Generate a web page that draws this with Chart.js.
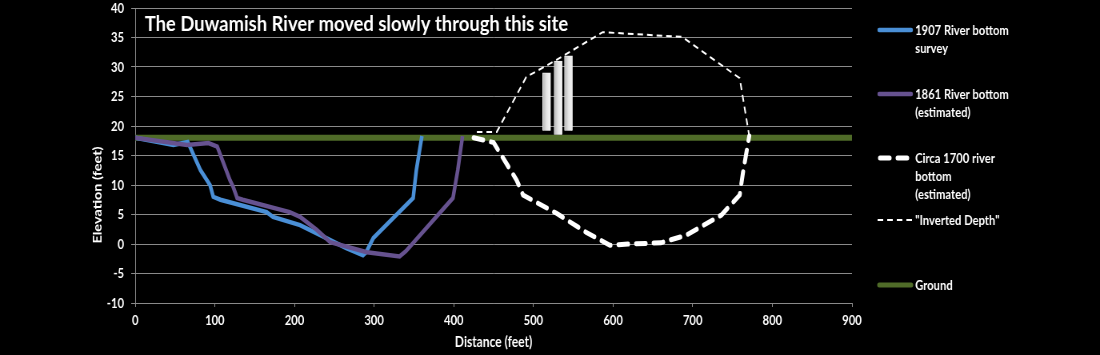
<!DOCTYPE html>
<html>
<head>
<meta charset="utf-8">
<script src="https://cdn.jsdelivr.net/npm/chart.js@4"></script>
<style>
  html, body { margin: 0; padding: 0; background: #000; overflow: hidden; }
  /* the source picture is squeezed horizontally, so draw wide and squeeze */
  #wrap { width: 1375px; height: 355px; transform: scaleX(0.8); transform-origin: 0 0; }
</style>
</head>
<body>
<div id="wrap"><canvas id="riverChart" width="1375" height="355"></canvas></div>
<script>
// Duwamish River cross sections (distance in feet, elevation in feet)
const chartTitle = 'The Duwamish River moved slowly through this site';

const dist1907 = [0, 48, 66, 82, 94, 98, 107, 165, 173, 207, 240, 265, 286, 290, 299, 349, 353, 360];
const elev1907 = [18, 16.8, 17.3, 12.5, 10, 8, 7.5, 5.4, 4.6, 3.2, 1, -0.7, -1.9, -1.4, 1, 7.8, 12.5, 18.3];

const dist1861 = [0, 65, 92, 103, 119, 123, 128, 135, 194, 207, 228, 245, 291, 332, 340, 399, 405, 411];
const elev1861 = [18, 16.8, 17.1, 16.5, 10.8, 9.7, 7.8, 7.5, 5.4, 4.6, 2.4, 0.3, -1.4, -2.1, -1.2, 7.8, 12.5, 18.3];

const dist1700 = [425, 450, 479, 487, 529, 566, 596, 620, 660, 692, 736, 759, 763, 771];
const elev1700 = [18, 17.2, 10.8, 8.3, 5.2, 2, -0.2, 0, 0.2, 1.5, 4.9, 8.3, 12, 18.3];

const distInverted = [429, 454, 491, 529, 587, 687, 759, 771];
const elevInverted = [19, 19, 28.3, 31.2, 35.9, 35.1, 28.1, 18.3];

const distGround = [0, 900];
const elevGround = [18, 18];

// the three light bars drawn above the old channel
const barDist = [516.6, 531, 544];
const barLow = [19.2, 18.5, 19.2];
const barHigh = [29, 31, 31.9];

const yTicksMin = -10, yTicksMax = 40, yStep = 5;
const xTicksMin = 0, xTicksMax = 900, xStep = 100;

const legendLabels = [
    ['1907 River bottom', 'survey'],
    ['1861 River bottom', '(estimated)'],
    ['Circa 1700 river', 'bottom', '(estimated)'],
    ['"Inverted Depth"'],
    ['Ground']
];

function toPoints(xs, ys) {
    return xs.map((x, i) => ({ x: x, y: ys[i] }));
}

const FONT = 'Lato, "Open Sans", sans-serif';

// legend and chart title drawn by hand to follow the original layout
const overlayPlugin = {
    id: 'overlay',
    afterDraw(chart) {
        const ctx = chart.ctx;
        ctx.save();
        ctx.fillStyle = '#ffffff';

        // title inside the plot (a bit wider than the rest of the text)
        ctx.save();
        ctx.translate(181, 31);
        ctx.scale(1.15, 1);
        ctx.font = 'bold 20px ' + FONT;
        ctx.textAlign = 'left';
        ctx.textBaseline = 'alphabetic';
        ctx.fillText(chartTitle, 0, 0);
        ctx.restore();

        // y axis title, sits lower than centre in the original
        ctx.save();
        ctx.translate(122, 195);
        ctx.rotate(-Math.PI / 2);
        ctx.font = 'bold 14.5px ' + FONT;
        ctx.textAlign = 'center';
        ctx.textBaseline = 'middle';
        ctx.fillText('Elevation (feet)', 0, 0);
        ctx.restore();

        // legend
        const legendY = [30, 94, 158, 220, 285];
        const sampleDs = [1, 2, 3, 4, 5];
        ctx.font = 'bold 14px ' + FONT;
        ctx.textBaseline = 'middle';
        legendLabels.forEach((lines, i) => {
            const ds = chart.data.datasets[sampleDs[i]];
            const y = legendY[i];
            ctx.save();
            ctx.strokeStyle = ds.borderColor;
            ctx.lineWidth = Math.min(ds.borderWidth, 5);
            ctx.setLineDash(ds.borderDash || []);
            ctx.lineCap = ds.borderCapStyle || 'round';
            ctx.beginPath();
            if (ds.borderDash && ds.borderCapStyle === 'round') {
                ctx.moveTo(1100, y); ctx.lineTo(1138, y);
            } else if (ds.borderDash) {
                ctx.moveTo(1097, y); ctx.lineTo(1141, y);
            } else {
                ctx.moveTo(1099, y); ctx.lineTo(1139, y);
            }
            ctx.stroke();
            ctx.restore();
            lines.forEach((t, k) => ctx.fillText(t, 1144, y + k * 18));
        });
        ctx.restore();
    }
};

function barFill(c) {
    const chart = c.chart;
    if (!chart.chartArea || !c.raw) return '#dddddd';
    const px = chart.scales.x.getPixelForValue(c.raw.x);
    const g = chart.ctx.createLinearGradient(px - 5, 0, px + 5, 0);
    g.addColorStop(0, '#b4b4b4');
    g.addColorStop(0.5, '#e4e4e4');
    g.addColorStop(1, '#f7f7f7');
    return g;
}

new Chart(document.getElementById('riverChart'), {
    type: 'scatter',
    data: {
        datasets: [
            {
                type: 'bar',
                label: 'bars',
                data: barDist.map((x, i) => ({ x: x, y: [barLow[i], barHigh[i]] })),
                backgroundColor: barFill,
                borderColor: '#efefef',
                borderWidth: 1,
                barThickness: 10,
                order: 3
            },
            {
                label: '1907 River bottom survey',
                data: toPoints(dist1907, elev1907),
                showLine: true,
                borderColor: '#4a8fd6',
                borderWidth: 4.5,
                pointRadius: 0,
                order: 5
            },
            {
                label: '1861 River bottom (estimated)',
                data: toPoints(dist1861, elev1861),
                showLine: true,
                borderColor: '#66528f',
                borderWidth: 4.5,
                pointRadius: 0,
                order: 4
            },
            {
                label: 'Circa 1700 river bottom (estimated)',
                data: toPoints(dist1700, elev1700),
                showLine: true,
                borderColor: '#ffffff',
                borderWidth: 5,
                borderDash: [12, 10],
                borderCapStyle: 'round',
                pointRadius: 0,
                order: 1
            },
            {
                label: '"Inverted Depth"',
                data: toPoints(distInverted, elevInverted),
                showLine: true,
                borderColor: '#ffffff',
                borderWidth: 2,
                borderDash: [7, 5],
                borderCapStyle: 'butt',
                pointRadius: 0,
                order: 2
            },
            {
                label: 'Ground',
                data: toPoints(distGround, elevGround),
                showLine: true,
                borderColor: '#4f6b28',
                borderWidth: 6,
                pointRadius: 0,
                order: 6
            }
        ]
    },
    options: {
        responsive: false,
        animation: false,
        layout: { padding: { left: 0, right: 310, top: 0, bottom: 0 } },
        plugins: {
            legend: { display: false },
            tooltip: { enabled: false }
        },
        scales: {
            x: {
                type: 'linear',
                min: xTicksMin,
                max: xTicksMax,
                offset: false,
                afterFit: s => { s.height = 52; },
                ticks: {
                    stepSize: xStep,
                    color: '#ffffff',
                    padding: 5,
                    maxRotation: 0,
                    font: { family: FONT, size: 14, weight: 'bold' }
                },
                grid: { offset: false, drawOnChartArea: false, color: '#8a8a8a', tickLength: 4 },
                border: { color: '#8a8a8a' },
                title: {
                    display: true,
                    text: 'Distance (feet)',
                    color: '#ffffff',
                    padding: { top: 0, bottom: 4 },
                    font: { family: FONT, size: 15, weight: 'bold' }
                }
            },
            y: {
                min: yTicksMin,
                max: yTicksMax,
                afterFit: s => { s.width = 169; s.paddingTop = 8; s.paddingBottom = 0; },
                ticks: {
                    stepSize: yStep,
                    color: '#ffffff',
                    padding: 9,
                    font: { family: FONT, size: 14, weight: 'bold' }
                },
                grid: { color: '#8a8a8a', tickLength: 5 },
                border: { color: '#8a8a8a' }
            }
        }
    },
    plugins: [overlayPlugin]
});
</script>
</body>
</html>
